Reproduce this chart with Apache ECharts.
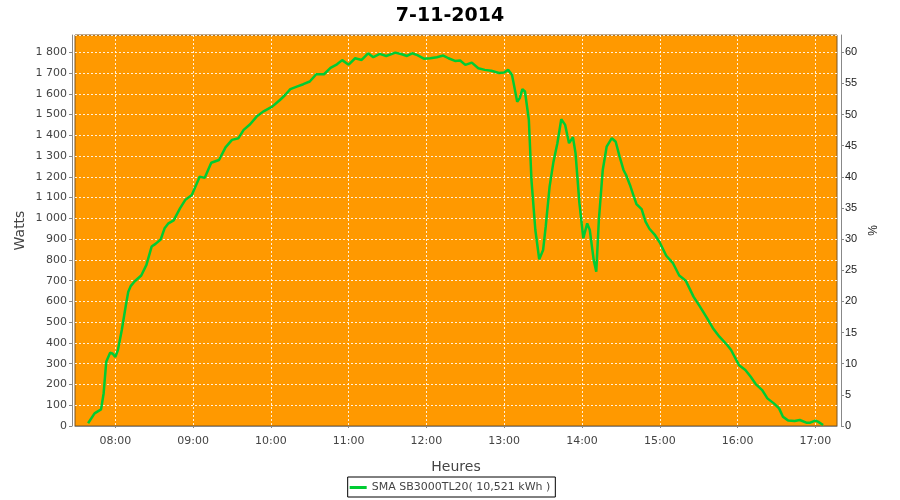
<!DOCTYPE html>
<html>
<head>
<meta charset="utf-8">
<script src="https://cdn.jsdelivr.net/npm/echarts@6/dist/echarts.min.js"></script>
<style>
html,body{margin:0;padding:0;background:#fff;}
#chart{width:900px;height:500px;}
</style>
</head>
<body>
<div id="chart"></div>
<script>
const chartTitle = '7-11-2014';
const seriesName = 'SMA SB3000TL20( 10,521 kWh )';
const times = [
'07:39','07:44','07:49','07:51','07:53','07:56','07:58','08:00','08:02','08:05',
'08:08','08:10','08:12','08:15','08:20','08:24','08:28','08:31','08:35','08:38',
'08:41','08:45','08:50','08:54','08:59','09:04','09:05','09:09','09:14','09:20',
'09:25','09:30','09:35','09:39','09:44','09:49','09:54','10:01','10:07','10:11',
'10:15','10:20','10:25','10:30','10:35','10:41','10:46','10:51','10:55','11:00',
'11:05','11:10','11:15','11:19','11:24','11:29','11:36','11:41','11:45','11:49',
'11:53','11:58','12:03','12:08','12:13','12:17','12:22','12:26','12:30','12:35',
'12:40','12:45','12:50','12:56','13:00','13:03','13:06','13:10','13:12','13:14',
'13:16','13:19','13:21','13:24','13:27','13:30','13:32','13:35','13:38','13:41',
'13:44','13:47','13:50','13:53','13:55','13:58','14:01','14:04','14:06','14:09',
'14:11','14:13','14:16','14:19','14:23','14:26','14:29','14:32','14:34','14:37',
'14:40','14:42','14:46','14:49','14:52','14:56','15:00','15:05','15:10','15:15',
'15:20','15:26','15:31','15:36','15:41','15:46','15:52','15:55','16:01','16:06',
'16:10','16:14','16:19','16:23','16:28','16:32','16:35','16:39','16:44','16:48',
'16:53','16:56','17:00','17:02','17:06'
];
const watts = [
13,61,80,158,310,353,348,332,366,462,
577,647,675,697,725,776,864,877,898,952,
976,990,1049,1089,1113,1185,1201,1195,1268,1281,
1342,1378,1386,1426,1453,1490,1514,1538,1570,1594,
1622,1634,1646,1659,1694,1694,1725,1742,1762,1740,
1771,1763,1795,1776,1792,1782,1798,1790,1782,1795,
1786,1769,1771,1776,1784,1771,1758,1760,1739,1750,
1723,1715,1711,1700,1702,1715,1691,1562,1579,1622,
1611,1474,1185,944,803,848,960,1153,1273,1362,
1477,1450,1362,1391,1314,1073,904,976,944,800,
743,992,1233,1345,1386,1369,1297,1233,1209,1161,
1105,1069,1044,984,950,922,884,820,786,725,
700,623,575,524,471,430,390,366,294,270,
238,202,173,133,109,85,45,26,24,29,
16,16,26,21,5
];
const xTickLabels = ['08:00','09:00','10:00','11:00','12:00','13:00','14:00','15:00','16:00','17:00'];
const wattMax = 1883;
const ratedPower = 3000;

function toMin(s){
  const p = s.split(':');
  return Number(p[0]) * 60 + Number(p[1]);
}
function fmtTime(v){
  const h = Math.floor(v / 60), m = Math.round(v % 60);
  return String(h).padStart(2,'0') + ':' + String(m).padStart(2,'0');
}
function fmtWatts(v){
  if (v >= 1000) return Math.floor(v / 1000) + ' ' + String(v % 1000).padStart(3, '0');
  return String(v);
}
const data = times.map((t, i) => [toMin(t), watts[i]]);
const xTicks = xTickLabels.map(toMin);

const chart = echarts.init(document.getElementById('chart'), null, {renderer: 'canvas'});
const gridLine = {show: true, lineStyle: {color: 'rgba(255,255,255,0.85)', width: 1, type: [2, 2]}};
chart.setOption({
  animation: false,
  backgroundColor: '#ffffff',
  title: {
    text: chartTitle,
    left: 'center',
    top: 2,
    textStyle: {fontFamily: 'DejaVu Sans', fontSize: 19, fontWeight: 'bold', color: '#000'}
  },
  legend: {
    data: [seriesName],
    left: 'center',
    top: 477,
    padding: [5, 5, 4, 2],
    borderColor: '#000',
    borderWidth: 1,
    icon: 'rect',
    itemWidth: 17,
    itemHeight: 3,
    itemGap: 2,
    textStyle: {fontFamily: 'DejaVu Sans', fontSize: 11, color: '#444'}
  },
  grid: {
    left: 75, right: 63, top: 35, bottom: 74,
    show: true,
    backgroundColor: '#ff9900',
    borderColor: '#7a5522',
    borderWidth: 1
  },
  xAxis: {
    type: 'value',
    min: toMin('07:28') + 0.9,
    max: toMin('17:16') + 0.7,
    offset: 4,
    name: 'Heures',
    nameLocation: 'middle',
    nameGap: 30,
    nameTextStyle: {fontFamily: 'DejaVu Sans', fontSize: 14, color: '#444'},
    axisLine: {show: true, lineStyle: {color: '#888', width: 1}},
    axisTick: {show: true, length: 2, lineStyle: {color: '#888'}, customValues: xTicks},
    axisLabel: {customValues: xTicks, formatter: fmtTime, margin: 6, fontFamily: 'DejaVu Sans', fontSize: 11, color: '#444'},
    splitLine: gridLine
  },
  yAxis: [
    {
      type: 'value',
      position: 'left',
      min: 0,
      max: wattMax,
      interval: 100,
      offset: 3,
      name: 'Watts',
      nameLocation: 'middle',
      nameGap: 45,
      nameMoveOverlap: false,
      nameRotate: 90,
      nameTextStyle: {fontFamily: 'DejaVu Sans', fontSize: 14, color: '#444'},
      axisLine: {show: true, lineStyle: {color: '#888', width: 1}},
      axisTick: {show: true, length: 3, lineStyle: {color: '#888'}},
      axisLabel: {formatter: fmtWatts, margin: 5, fontFamily: 'DejaVu Sans', fontSize: 11, color: '#444', showMaxLabel: false},
      splitLine: gridLine
    },
    {
      type: 'value',
      position: 'right',
      min: 0,
      max: wattMax / ratedPower * 100,
      interval: 5,
      offset: 4,
      name: '%',
      nameLocation: 'middle',
      nameGap: 26,
      nameRotate: 90,
      nameTextStyle: {fontFamily: 'Liberation Sans', fontSize: 12, color: '#222'},
      axisLine: {show: true, lineStyle: {color: '#888', width: 1}},
      axisTick: {show: true, length: 3, lineStyle: {color: '#888'}},
      axisLabel: {margin: 4, fontFamily: 'Liberation Sans', fontSize: 11, color: '#222', showMaxLabel: false},
      splitLine: {show: false}
    }
  ],
  series: [{
    name: seriesName,
    type: 'line',
    yAxisIndex: 0,
    data: data,
    symbol: 'none',
    smooth: false,
    lineStyle: {color: '#00cc33', width: 2.5},
    itemStyle: {color: '#00cc33'}
  }]
});
</script>
</body>
</html>
